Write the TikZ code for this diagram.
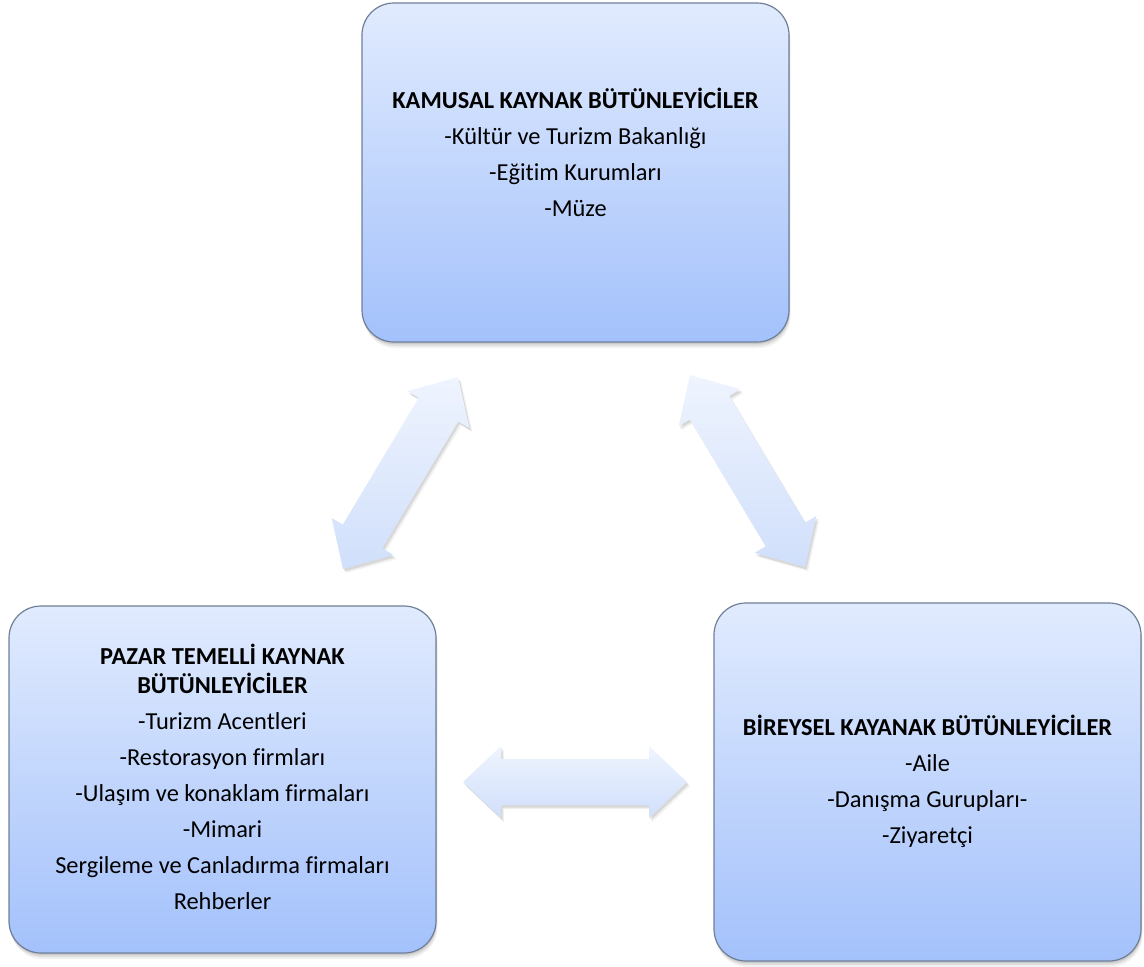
\documentclass[tikz,border=0pt]{standalone}
\usepackage{fontspec}
\setmainfont{Carlito}[Ligatures=NoCommon]
\usetikzlibrary{calc,shadows}

\definecolor{boxtop}{HTML}{E1EBFE}
\definecolor{boxbot}{HTML}{A3C1FB}
\definecolor{boxline}{HTML}{6F7F98}
\definecolor{arrtop}{HTML}{EFF4FE}
\definecolor{arrbot}{HTML}{D0DFFB}

\tikzset{
  softshadow/.style={
    drop shadow={shadow xshift=0.5pt, shadow yshift=-2pt, opacity=0.10, fill=black},
    drop shadow={shadow xshift=1pt, shadow yshift=-4pt, opacity=0.08, fill=black},
    drop shadow={shadow xshift=1.5pt, shadow yshift=-6pt, opacity=0.05, fill=black}},
  panel/.style={rectangle, rounded corners=32pt, draw=boxline, line width=1.2pt,
    top color=boxtop, bottom color=boxbot, minimum width=427pt, softshadow},
  paneltext/.style={align=center, font=\fontsize{24.4}{29}\selectfont},
  blockarrow/.style={top color=arrtop, bottom color=arrbot,
    drop shadow={shadow xshift=1.5pt, shadow yshift=-2.5pt, opacity=0.10, fill=black},
    drop shadow={shadow xshift=3pt, shadow yshift=-4pt, opacity=0.06, fill=black}}
}

% double-headed block arrow between two named coordinates
\newcommand\twowayarrow[2]{%
  \path ($(#1)!38pt!(#2)$) coordinate (heada) ($(#2)!38pt!(#1)$) coordinate (headb);
  \path[blockarrow] (#1)
    -- ($(heada)!36pt!90:(#1)$) -- ($(heada)!23pt!90:(#1)$)
    -- ($(headb)!23pt!-90:(#2)$) -- ($(headb)!36pt!-90:(#2)$)
    -- (#2)
    -- ($(headb)!36pt!90:(#2)$) -- ($(headb)!23pt!90:(#2)$)
    -- ($(heada)!23pt!-90:(#1)$) -- ($(heada)!36pt!-90:(#1)$)
    -- cycle;
}

\begin{document}
\begin{tikzpicture}[x=1pt, y=-1pt]
\useasboundingbox (0,0) rectangle (1144,967);

% the three panels
\node[panel, minimum height=339pt] (kamu) at (575.5,172.5) {};
\node[panel, minimum height=347pt] (pazar) at (222.5,779.5) {};
\node[panel, minimum height=358pt] (birey) at (927.5,782) {};

% panel texts
\node[paneltext] (kamutxt) at (575.5,152) {%
  \textbf{KAMUSAL KAYNAK BÜTÜNLEYİCİLER}\\[7pt]
  -Kültür ve Turizm Bakanlığı\\[7pt]
  -Eğitim Kurumları\\[7pt]
  -Müze};
\node[paneltext] (pazartxt) at (222.5,777) {%
  \textbf{PAZAR TEMELLİ KAYNAK}\\
  \textbf{BÜTÜNLEYİCİLER}\\[7.5pt]
  -Turizm Acentleri\\[7pt]
  -Restorasyon firmları\\[7pt]
  -Ulaşım ve konaklam firmaları\\[7pt]
  -Mimari\\[7pt]
  Sergileme ve Canladırma firmaları\\[7pt]
  Rehberler};
\node[paneltext] (bireytxt) at (927.5,781.5) {%
  \textbf{BİREYSEL KAYANAK BÜTÜNLEYİCİLER}\\[7pt]
  -Aile\\[7pt]
  -Danışma Gurupları-\\[7pt]
  -Ziyaretçi};

% arrow end points
\coordinate (lk) at (458,377);
\coordinate (lp) at (343,569);
\coordinate (rk) at (690,375);
\coordinate (rb) at (805,567);
\coordinate (hl) at (463,782);
\coordinate (hr) at (687,782);

\twowayarrow{lk}{lp}
\twowayarrow{rk}{rb}
\twowayarrow{hl}{hr}
\end{tikzpicture}
\end{document}
